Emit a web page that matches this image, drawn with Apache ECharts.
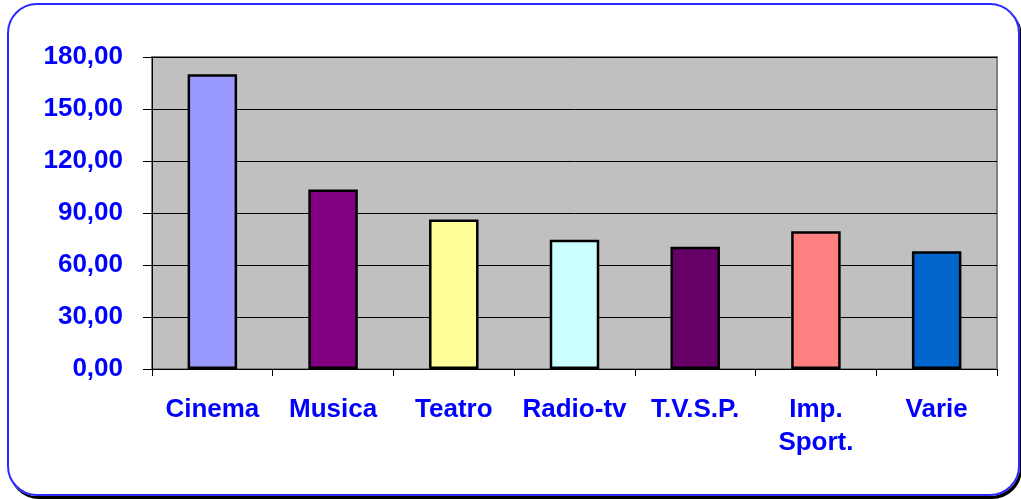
<!DOCTYPE html>
<html>
<head>
<meta charset="utf-8">
<script src="https://cdn.jsdelivr.net/npm/echarts@6/dist/echarts.min.js"></script>
<style>
  html, body { margin: 0; padding: 0; background: #ffffff; }
  #frame {
    position: absolute; left: 7px; top: 3px; width: 1009px; height: 489px;
    border: 2px solid #2a2aff; border-radius: 30px;
    box-shadow: 2px 3px 0 #000000;
  }
  #chart { position: absolute; left: 0; top: 0; width: 1021px; height: 499px; }
</style>
</head>
<body>
<div id="frame"></div>
<div id="chart"></div>
<script>
// Categories and values
const categories = ['Cinema', 'Musica', 'Teatro', 'Radio-tv', 'T.V.S.P.', 'Imp.\nSport.', 'Varie'];
const values = [170.0, 103.5, 86.3, 74.5, 70.6, 79.5, 68.0];
const barColors = ['#9999ff', '#800080', '#ffff99', '#ccffff', '#660066', '#ff8080', '#0066cc'];

const labelFont = {
  color: '#0000ff',
  fontFamily: 'Liberation Sans, Arial, sans-serif',
  fontWeight: 'bold',
  fontSize: 26
};

const chart = echarts.init(document.getElementById('chart'), null, { renderer: 'canvas' });
chart.setOption({
  animation: false,
  backgroundColor: 'transparent',
  grid: {
    left: 152, top: 57, right: 24, bottom: 130,
    show: true, backgroundColor: '#c0c0c0', borderColor: '#808080', borderWidth: 2
  },
  xAxis: {
    type: 'category',
    data: categories,
    axisLine: { lineStyle: { color: '#000000', width: 1 } },
    axisTick: { show: true, length: 7, lineStyle: { color: '#000000' } },
    axisLabel: Object.assign({ margin: 24, lineHeight: 33, interval: 0, align: 'center' }, labelFont)
  },
  yAxis: {
    type: 'value',
    min: 0, max: 180, interval: 30,
    axisLine: { show: true, lineStyle: { color: '#000000', width: 1 } },
    axisTick: { show: true, length: 9, lineStyle: { color: '#000000' } },
    splitLine: { show: true, lineStyle: { color: '#000000', width: 1 } },
    axisLabel: Object.assign({
      margin: 29,
      formatter: v => v.toFixed(2).replace('.', ',')
    }, labelFont)
  },
  series: [{
    type: 'bar',
    data: values.map((v, i) => ({ value: v, itemStyle: { color: barColors[i] } })),
    barWidth: '41%',
    itemStyle: { borderColor: '#000000', borderWidth: 2.5 }
  }]
});
</script>
</body>
</html>
